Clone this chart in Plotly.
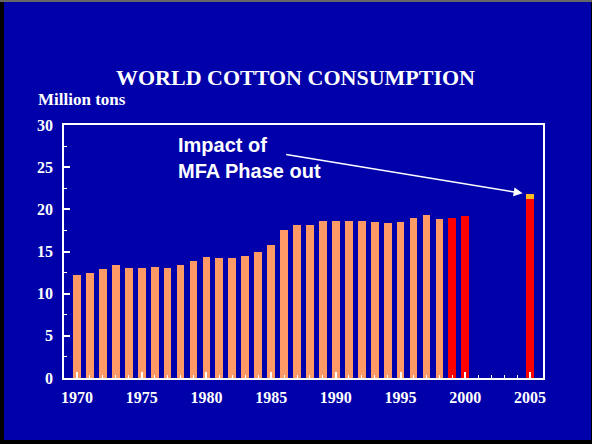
import plotly.graph_objects as go

# ---- data ----
peach_years = list(range(1970, 1999))
peach_values = [12.2, 12.5, 12.9, 13.35, 13.0, 13.1, 13.2, 13.1, 13.35, 13.9,
                14.3, 14.2, 14.2, 14.5, 14.9, 15.8, 17.5, 18.2, 18.2, 18.6,
                18.6, 18.6, 18.6, 18.5, 18.4, 18.5, 19.0, 19.35, 18.9]
red_years = [1999, 2000, 2005]
red_values = [19.0, 19.2, 21.2]
impact_years = [2005]
impact_values = [0.6]
tick_years = [1970, 1975, 1980, 1985, 1990, 1995, 2000, 2005]
tick_labels = [str(y) for y in tick_years]
y_ticks = [0, 5, 10, 15, 20, 25, 30]

BLUE = "#0000AA"
PEACH = "#FF9966"
RED = "#FF0000"
YELLOW = "#FFBB22"
SERIF = "Liberation Serif"
SANS = "Liberation Sans"

W, H = 592, 444
L, R, T, B = 64, 49, 125, 66
PW, PH = W - L - R, H - T - B

def px(x):
    return (x - L) / PW

def py(y):
    return (H - B - y) / PH

fig = go.Figure()
fig.add_trace(go.Bar(x=peach_years, y=peach_values, marker=dict(color=PEACH, line=dict(width=0)), width=0.6))
fig.add_trace(go.Bar(x=red_years, y=red_values, marker=dict(color=RED, line=dict(width=0)), width=0.6))
fig.add_trace(go.Bar(x=impact_years, y=impact_values, marker=dict(color=YELLOW, line=dict(width=0)), width=0.6))

fig.update_layout(
    width=W, height=H,
    margin=dict(l=L, r=R, t=T, b=B, pad=0),
    barmode="stack",
    showlegend=False,
    paper_bgcolor="black",
    plot_bgcolor=BLUE,
    shapes=[dict(type="rect", xref="paper", yref="paper",
                 x0=px(4), x1=px(591), y0=py(440), y1=py(2),
                 fillcolor=BLUE, line=dict(width=0), layer="below"),
            dict(type="rect", xref="paper", yref="paper",
                 x0=px(0), x1=px(592), y0=py(2), y1=py(0),
                 fillcolor="#666666", line=dict(width=0), layer="below")],
    xaxis=dict(range=[1969, 2006], tickvals=tick_years, ticktext=tick_labels,
               ticks="inside", ticklen=6, tickwidth=1.5, tickcolor="white",
               minor=dict(dtick=1, tick0=1970, ticks="inside", ticklen=3, tickwidth=1, tickcolor="white"),
               showline=True, linecolor="white", linewidth=1.5, mirror=True,
               showgrid=False, zeroline=False,
               tickfont=dict(family=SERIF, size=16, color="white", weight="bold"),
               ticklabelstandoff=4),
    yaxis=dict(range=[0, 30], tickvals=y_ticks,
               ticks="inside", ticklen=6, tickwidth=1.5, tickcolor="white",
               minor=dict(dtick=2.5, ticks="inside", ticklen=3, tickwidth=1, tickcolor="white"),
               showline=True, linecolor="white", linewidth=1.5, mirror=True,
               showgrid=False, zeroline=False,
               tickfont=dict(family=SERIF, size=16, color="white", weight="bold"),
               ticklabelstandoff=6),
    annotations=[
        dict(text="WORLD COTTON CONSUMPTION", xref="paper", yref="paper",
             x=px(295), y=py(77), xanchor="center", yanchor="middle", showarrow=False,
             font=dict(family=SERIF, size=22, color="white", weight="bold")),
        dict(text="Million tons", xref="paper", yref="paper",
             x=px(36), y=py(100), xanchor="left", yanchor="middle", showarrow=False,
             font=dict(family=SERIF, size=17, color="white", weight="bold")),
        dict(text="Impact of<br>MFA Phase out", xref="paper", yref="paper",
             x=px(176), y=py(157.5), xanchor="left", yanchor="middle", align="left", showarrow=False,
             font=dict(family=SANS, size=20, color="white", weight="bold")),
        dict(text="", x=2004.43, y=21.9, xref="x", yref="y",
             showarrow=True, ax=-238, ay=-39, arrowhead=2, arrowsize=1.2, arrowwidth=1.5,
             arrowcolor="white", standoff=0),
    ],
)

fig.write_html("out.html")
